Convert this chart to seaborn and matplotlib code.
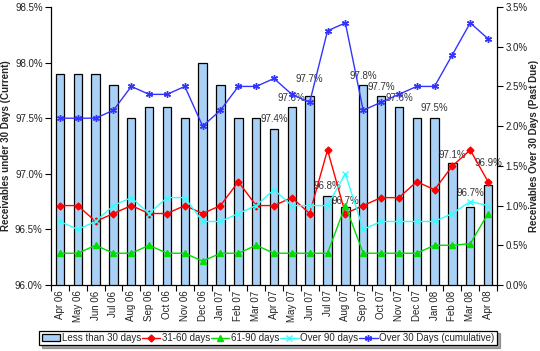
import numpy as np
import pandas as pd
import matplotlib
matplotlib.use('Agg')
import matplotlib.pyplot as plt
from matplotlib.patches import Patch
from matplotlib.lines import Line2D
from matplotlib.ticker import FuncFormatter
import seaborn as sns

months = ['Apr 06', 'May 06', 'Jun 06', 'Jul 06', 'Aug 06', 'Sep 06', 'Oct 06', 'Nov 06',
          'Dec 06', 'Jan 07', 'Feb 07', 'Mar 07', 'Apr 07', 'May 07', 'Jun 07', 'Jul 07',
          'Aug 07', 'Sep 07', 'Oct 07', 'Nov 07', 'Dec 07', 'Jan 08', 'Feb 08', 'Mar 08', 'Apr 08']
current = [97.9, 97.9, 97.9, 97.8, 97.5, 97.6, 97.6, 97.5, 98.0, 97.8, 97.5, 97.5, 97.4,
           97.6, 97.7, 96.8, 96.7, 97.8, 97.7, 97.6, 97.5, 97.5, 97.1, 96.7, 96.9]
d31_60 = [1.0, 1.0, 0.8, 0.9, 1.0, 0.9, 0.9, 1.0, 0.9, 1.0, 1.3, 1.0, 1.0,
          1.1, 0.9, 1.7, 0.9, 1.0, 1.1, 1.1, 1.3, 1.2, 1.5, 1.7, 1.3]
d61_90 = [0.4, 0.4, 0.5, 0.4, 0.4, 0.5, 0.4, 0.4, 0.3, 0.4, 0.4, 0.5, 0.4,
          0.4, 0.4, 0.4, 1.0, 0.4, 0.4, 0.4, 0.4, 0.5, 0.5, 0.52, 0.9]
over90 = [0.8, 0.7, 0.8, 1.0, 1.1, 0.9, 1.1, 1.1, 0.8, 0.8, 0.9, 1.0, 1.2,
          1.0, 1.0, 1.0, 1.4, 0.7, 0.8, 0.8, 0.8, 0.8, 0.9, 1.05, 1.0]
over30 = [2.1, 2.1, 2.1, 2.2, 2.5, 2.4, 2.4, 2.5, 2.0, 2.2, 2.5, 2.5, 2.6,
          2.4, 2.3, 3.2, 3.3, 2.2, 2.3, 2.4, 2.5, 2.5, 2.9, 3.3, 3.1]
label_idx = [12, 13, 14, 15, 16, 17, 18, 19, 21, 22, 23, 24]
label_off_px = [10, 9, 17, 10, 6, 9, 9, 9, 10, 8, 14, 22]

series_names = ['Less than 30 days', '31-60 days', '61-90 days', 'Over 90 days',
                'Over 30 Days (cumulative)']

sns.set_style('white')
plt.rcParams['font.family'] = ['Liberation Sans', 'DejaVu Sans']

df = pd.DataFrame({'month': months, 'current': current, 'pos': np.arange(len(months)),
                   'd31_60': d31_60, 'd61_90': d61_90, 'over90': over90, 'over30': over30})

W, H = 540, 351
fig = plt.figure(figsize=(W / 100, H / 100), dpi=100)
ax = fig.add_axes([51 / W, 1 - 285 / H, (497 - 51) / W, (285 - 7) / H])

bar_color = '#A9D1F5'
sns.barplot(data=df, x='month', y='current', ax=ax, color=bar_color, saturation=1,
            width=0.47, edgecolor='black', linewidth=0.9)
ax.set_ylim(96.0, 98.5)
ax.set_xlim(-0.5, len(months) - 0.5)

ax2 = ax.twinx()
line_specs = [
    ('d31_60', '#FF0000', 'D', 3.5),
    ('d61_90', '#00DD00', '^', 5),
    ('over90', '#33FFFF', 'x', 5),
    ('over30', '#3333FF', (6, 2, 0), 5),
]
for col, c, m, ms in line_specs:
    sns.lineplot(data=df, x='pos', y=col, ax=ax2, color=c, marker=m, markersize=ms,
                 markeredgecolor=c, markerfacecolor=c, markeredgewidth=1.0, linewidth=1.0)
ax2.set_ylim(0, 3.5)
ax2.set_xlim(-0.5, len(months) - 0.5)

# data labels
for i, off in zip(label_idx, label_off_px):
    ax.annotate(f'{current[i]:.1f}%', (i, current[i]), xytext=(0, off * 0.72),
                textcoords='offset points', ha='center', va='center', fontsize=7,
                color='#333333', zorder=10)

tc = '#222222'
ax.set_yticks(np.arange(96.0, 98.51, 0.5))
ax.yaxis.set_major_formatter(FuncFormatter(lambda v, p: f'{v:.1f}%'))
ax2.set_yticks(np.arange(0, 3.51, 0.5))
ax2.yaxis.set_major_formatter(FuncFormatter(lambda v, p: f'{v:.1f}%'))

ax.set_xticks(np.arange(len(months)))
ax.set_xticklabels(months, rotation=90, fontsize=7, color=tc)
ax.set_xticks(np.arange(-0.5, len(months), 1), minor=True)
ax.tick_params(axis='x', which='major', length=0, pad=4)
ax.tick_params(axis='x', which='minor', bottom=True, length=4, width=0.8, color='black')
ax.tick_params(axis='y', left=True, length=4, width=0.8, color='black', labelsize=7,
               labelcolor=tc, pad=2)
ax2.tick_params(axis='y', right=True, length=4, width=0.8, color='black', labelsize=7,
                labelcolor=tc, pad=2)

ax.set_xlabel('')
ax.set_ylabel('Receivables under 30 Days (Current)', fontsize=7, fontweight='bold', labelpad=3)
ax2.set_xlabel('')
ax2.set_ylabel('Receivables Over 30 Days (Past Due)', fontsize=7, fontweight='bold', labelpad=1)

for a in (ax, ax2):
    a.spines['top'].set_visible(False)
    for s in ('left', 'right', 'bottom'):
        a.spines[s].set_color('black')
        a.spines[s].set_linewidth(0.9)
ax.spines['right'].set_visible(False)
ax2.spines['left'].set_visible(False)
ax2.spines['bottom'].set_visible(False)

handles = [Patch(facecolor=bar_color, edgecolor='black', linewidth=0.9)]
for col, c, m, ms in line_specs:
    handles.append(Line2D([0], [0], color=c, marker=m, markersize=ms, markeredgecolor=c,
                          markerfacecolor=c, linewidth=1.0))
leg = fig.legend(handles, series_names, loc='center', bbox_to_anchor=(268 / W, 1 - 338 / H),
                 ncol=5, fontsize=7, frameon=True, fancybox=False, shadow=True,
                 edgecolor='black', handlelength=1.9, handletextpad=0.15, columnspacing=0.1,
                 borderpad=0.25, borderaxespad=0)
leg.get_frame().set_linewidth(0.9)

fig.savefig('out.png', dpi=100)
